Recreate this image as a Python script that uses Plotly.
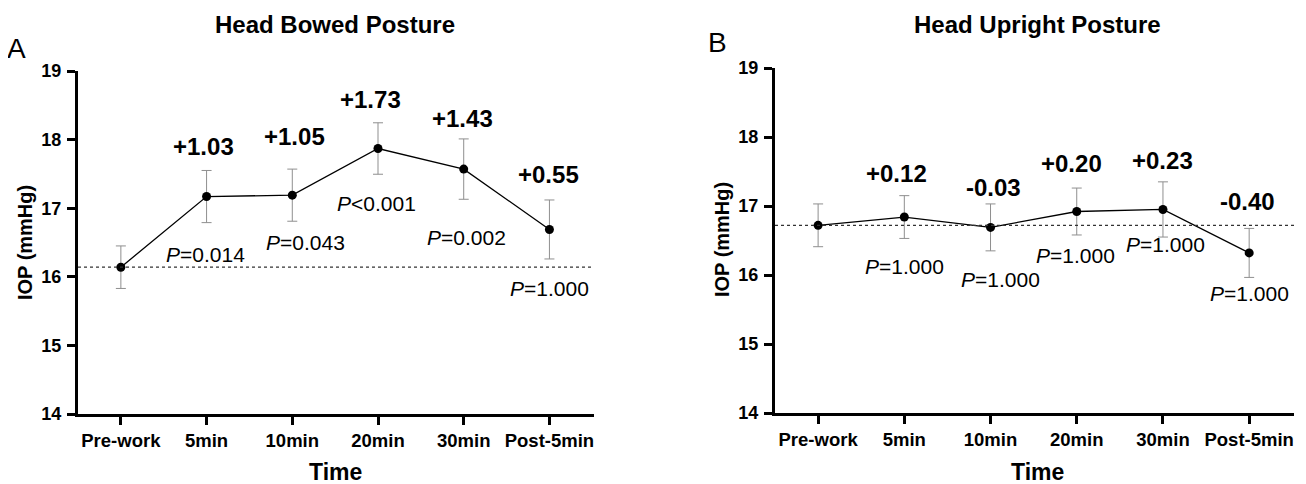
import plotly.graph_objects as go

# page body has an 8px margin; the figure is sized to fill the rest of the window
OFF = 8
W, H = 1306 - OFF, 484 - OFF

categories = ["Pre-work", "5min", "10min", "20min", "30min", "Post-5min"]
cat_idx = list(range(len(categories)))
y_ticks = [14, 15, 16, 17, 18, 19]

# Panel A: head bowed posture
bowed_mean = [16.14, 17.17, 17.19, 17.87, 17.57, 16.69]
bowed_err = [0.31, 0.38, 0.38, 0.375, 0.44, 0.43]
bowed_delta = ["+1.03", "+1.05", "+1.73", "+1.43", "+0.55"]
bowed_p = ["<i>P</i>=0.014", "<i>P</i>=0.043", "<i>P</i>&lt;0.001", "<i>P</i>=0.002", "<i>P</i>=1.000"]

# Panel B: head upright posture
upright_mean = [16.72, 16.84, 16.69, 16.92, 16.95, 16.32]
upright_err = [0.31, 0.31, 0.34, 0.34, 0.40, 0.355]
upright_delta = ["+0.12", "-0.03", "+0.20", "+0.23", "-0.40"]
upright_p = ["<i>P</i>=1.000"] * 5

# label placements (data coordinates)
bowed_delta_x = [0.96, 2.02, 2.91, 3.99, 4.99]
bowed_delta_y = [17.90, 18.04, 18.58, 18.31, 17.49]
bowed_p_x = [0.99, 2.15, 2.98, 4.03, 5.0]
bowed_p_y = [16.33, 16.50, 17.07, 16.57, 15.83]
upright_delta_x = [0.91, 2.03, 2.94, 3.99, 4.98]
upright_delta_y = [17.47, 17.27, 17.61, 17.66, 17.06]
upright_p_x = [1.0, 2.11, 2.99, 4.03, 5.0]
upright_p_y = [16.12, 15.94, 16.28, 16.44, 15.73]

FONT = "Liberation Sans, Arial, sans-serif"

fig = go.Figure()

def add_series(mean, err, xa, ya):
    fig.add_trace(go.Scatter(
        x=cat_idx, y=mean, xaxis=xa, yaxis=ya, mode="lines+markers",
        line=dict(color="black", width=1.3),
        marker=dict(color="black", size=9),
        error_y=dict(type="data", array=err, color="#8f8f8f", thickness=1, width=5),
        cliponaxis=False, showlegend=False, hoverinfo="skip",
    ))

add_series(bowed_mean, bowed_err, "x", "y")
add_series(upright_mean, upright_err, "x2", "y2")

def px2x(p):
    return (p - OFF) / W

def px2y(p):
    return 1 - (p - OFF) / H

xcommon = dict(
    range=[-0.5, 5.52], tickvals=cat_idx, ticktext=categories,
    showline=True, linewidth=3, linecolor="black",
    ticks="outside", ticklen=8, tickwidth=3, tickcolor="black",
    showgrid=False, zeroline=False, ticklabelstandoff=0, automargin=False,
    tickfont=dict(family=FONT, size=18.5, color="black", weight="bold"),
    fixedrange=True,
)
ycommon = dict(
    range=[14, 19], tickvals=y_ticks,
    showline=True, linewidth=3, linecolor="black",
    ticks="outside", ticklen=8, tickwidth=3, tickcolor="black",
    showgrid=False, zeroline=False, ticklabelstandoff=2, automargin=False,
    tickfont=dict(family=FONT, size=18, color="black", weight="bold"),
    fixedrange=True,
)

fig.update_layout(
    template="none",
    width=W, height=H, autosize=False,
    margin=dict(l=0, r=0, t=0, b=0, pad=0),
    paper_bgcolor="white", plot_bgcolor="white",
    xaxis=dict(domain=[px2x(78), px2x(594)], anchor="y", **xcommon),
    yaxis=dict(domain=[px2y(414), px2y(71)], anchor="x", **ycommon),
    xaxis2=dict(domain=[px2x(775), px2x(1294)], anchor="y2", **xcommon),
    yaxis2=dict(domain=[px2y(413), px2y(68)], anchor="x2", **ycommon),
)

# baselines
fig.add_shape(type="line", xref="x", yref="y", x0=-0.5, x1=5.52,
              y0=bowed_mean[0], y1=bowed_mean[0],
              line=dict(color="#333333", width=1.2, dash="3px,3px"))
fig.add_shape(type="line", xref="x2", yref="y2", x0=-0.5, x1=5.52,
              y0=upright_mean[0], y1=upright_mean[0],
              line=dict(color="#333333", width=1.2, dash="3px,3px"))

ann = []
for txt, x, y in zip(bowed_delta, bowed_delta_x, bowed_delta_y):
    ann.append(dict(text=txt, x=x, y=y, xref="x", yref="y", showarrow=False,
                    font=dict(family=FONT, size=24, color="black", weight="bold")))
for txt, x, y in zip(bowed_p, bowed_p_x, bowed_p_y):
    ann.append(dict(text=txt, x=x, y=y, xref="x", yref="y", showarrow=False,
                    font=dict(family=FONT, size=21, color="black")))
for txt, x, y in zip(upright_delta, upright_delta_x, upright_delta_y):
    ann.append(dict(text=txt, x=x, y=y, xref="x2", yref="y2", showarrow=False,
                    font=dict(family=FONT, size=24, color="black", weight="bold")))
for txt, x, y in zip(upright_p, upright_p_x, upright_p_y):
    ann.append(dict(text=txt, x=x, y=y, xref="x2", yref="y2", showarrow=False,
                    font=dict(family=FONT, size=21, color="black")))

def paper_text(txt, xp, yp, size, bold=True, angle=0):
    return dict(text=txt, x=px2x(xp), y=px2y(yp), xref="paper", yref="paper",
                xanchor="center", yanchor="middle", showarrow=False, textangle=angle,
                font=dict(family=FONT, size=size, color="black",
                          weight="bold" if bold else "normal"))

ann += [
    paper_text("Head Bowed Posture", 335, 25, 24),
    paper_text("Head Upright Posture", 1037, 25, 24),
    paper_text("A", 16, 48, 28, bold=False),
    paper_text("B", 717, 43, 28, bold=False),
    paper_text("IOP (mmHg)", 25, 243, 20, angle=-90),
    paper_text("IOP (mmHg)", 722, 240, 20, angle=-90),
    paper_text("Time", 335, 472, 23),
    paper_text("Time", 1037, 472, 23),
]
fig.update_layout(annotations=ann)

fig.write_html("out.html")
